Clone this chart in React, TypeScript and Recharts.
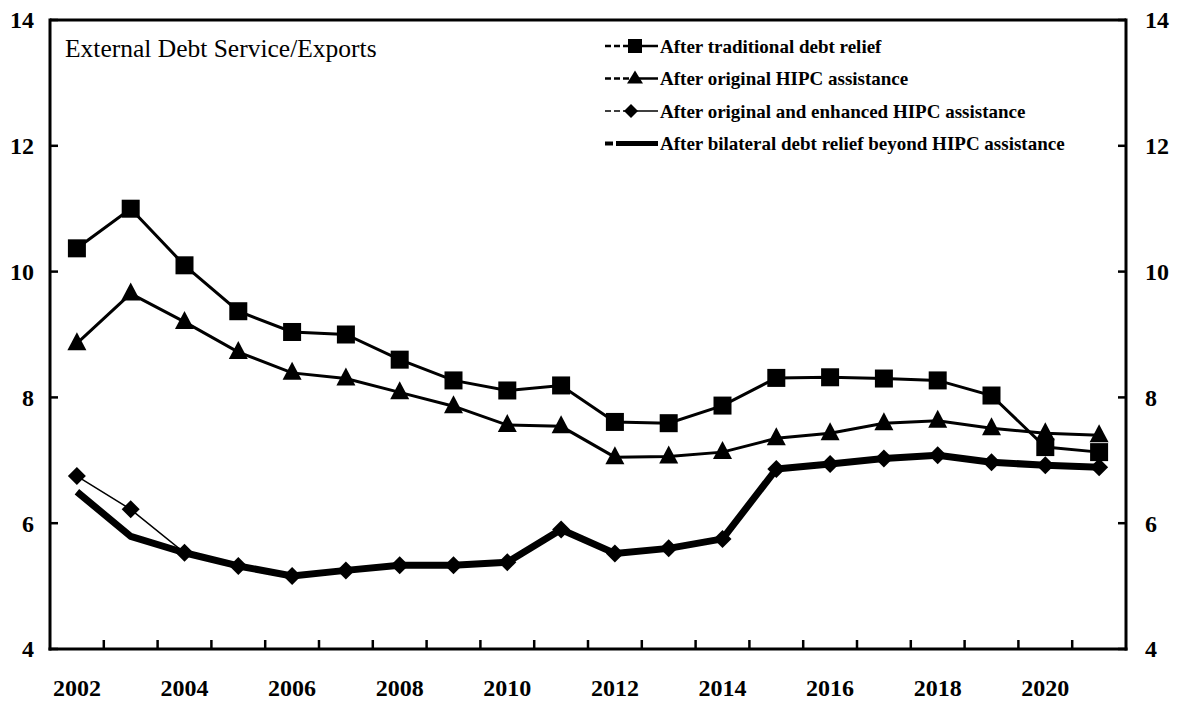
import React from 'react';
import { LineChart, Line, XAxis, YAxis, Legend, ReferenceLine } from 'recharts';

const years = [2002, 2003, 2004, 2005, 2006, 2007, 2008, 2009, 2010, 2011, 2012, 2013, 2014, 2015, 2016, 2017, 2018, 2019, 2020, 2021];
const traditional = [10.37, 11.0, 10.1, 9.37, 9.04, 9.0, 8.6, 8.27, 8.11, 8.19, 7.61, 7.59, 7.87, 8.31, 8.32, 8.3, 8.27, 8.03, 7.21, 7.13];
const originalHipc = [8.86, 9.65, 9.2, 8.72, 8.39, 8.3, 8.08, 7.86, 7.56, 7.54, 7.05, 7.06, 7.13, 7.35, 7.43, 7.59, 7.63, 7.51, 7.43, 7.4];
const enhancedHipc = [6.75, 6.22, 5.53, 5.32, 5.16, 5.25, 5.33, 5.33, 5.38, 5.9, 5.52, 5.6, 5.75, 6.86, 6.94, 7.03, 7.08, 6.97, 6.92, 6.89];
const bilateral = [6.5, 5.79, 5.53, 5.32, 5.16, 5.25, 5.33, 5.33, 5.38, 5.9, 5.52, 5.6, 5.75, 6.86, 6.94, 7.03, 7.08, 6.97, 6.92, 6.89];

const yTicks = [4, 6, 8, 10, 12, 14];
const xLabelYears = [2002, 2004, 2006, 2008, 2010, 2012, 2014, 2016, 2018, 2020];
const xTickMarks = years.slice(0, -1).map((y) => y + 0.5);
const xTicks = [...xLabelYears, ...xTickMarks].sort((a, b) => a - b);

const seriesNames: Record<string, string> = {
  traditional: 'After traditional debt relief',
  originalHipc: 'After original HIPC assistance',
  enhancedHipc: 'After original and enhanced HIPC assistance',
  bilateral: 'After bilateral debt relief beyond HIPC assistance',
};
const legendOrder = ['traditional', 'originalHipc', 'enhancedHipc', 'bilateral'];

const data = years.map((year, i) => ({
  year,
  traditional: traditional[i],
  originalHipc: originalHipc[i],
  enhancedHipc: enhancedHipc[i],
  bilateral: bilateral[i],
}));

const FONT = '"Liberation Serif", "Times New Roman", serif';

const XTick = (props: any) => {
  const { x, y, payload } = props;
  const v = payload.value;
  if (Number.isInteger(v)) {
    return (
      <text x={x} y={y + 47} textAnchor="middle" fontFamily={FONT} fontWeight="bold" fontSize={24} fill="#000">
        {v}
      </text>
    );
  }
  return <line x1={x} x2={x} y1={y} y2={y - 9} stroke="#000" strokeWidth={2.5} />;
};

const YTick = (props: any) => {
  const { x, y, payload, side } = props;
  const left = side === 'left';
  return (
    <g>
      <line x1={x} x2={left ? x + 8 : x - 8} y1={y} y2={y} stroke="#000" strokeWidth={2.5} />
      <text
        x={left ? x - 16 : x + 19}
        y={y}
        dy="0.35em"
        textAnchor={left ? 'end' : 'start'}
        fontFamily={FONT}
        fontWeight="bold"
        fontSize={24}
        fill="#000"
      >
        {payload.value}
      </text>
    </g>
  );
};

const Square = (props: any) => {
  const { cx, cy, index } = props;
  if (cx == null || cy == null) return <g key={index} />;
  return <rect key={index} x={cx - 9} y={cy - 9} width={18} height={18} fill="#000" />;
};
const Triangle = (props: any) => {
  const { cx, cy, index } = props;
  if (cx == null || cy == null) return <g key={index} />;
  return <polygon key={index} points={`${cx},${cy - 11} ${cx - 9.5},${cy + 7} ${cx + 9.5},${cy + 7}`} fill="#000" />;
};
const Diamond = (props: any) => {
  const { cx, cy, index } = props;
  if (cx == null || cy == null) return <g key={index} />;
  return <polygon key={index} points={`${cx},${cy - 9} ${cx + 9},${cy} ${cx},${cy + 9} ${cx - 9},${cy}`} fill="#000" />;
};

const LegendSymbol = ({ k, cy }: { k: string; cy: number }) => {
  if (k === 'bilateral') {
    return (
      <g>
        <line x1={5} x2={13} y1={cy} y2={cy} stroke="#000" strokeWidth={4} />
        <line x1={16} x2={58} y1={cy} y2={cy} stroke="#000" strokeWidth={5} />
      </g>
    );
  }
  const thin = k === 'enhancedHipc';
  const sw = thin ? 1.5 : 2.5;
  const mx = k === 'enhancedHipc' ? 31 : 35;
  let marker: React.ReactNode = null;
  if (k === 'traditional') marker = <rect x={mx - 7} y={cy - 7} width={14} height={14} fill="#000" />;
  if (k === 'originalHipc') marker = <polygon points={`${mx},${cy - 8} ${mx - 8},${cy + 5} ${mx + 8},${cy + 5}`} fill="#000" />;
  if (k === 'enhancedHipc') marker = <polygon points={`${mx},${cy - 7} ${mx + 7},${cy} ${mx},${cy + 7} ${mx - 7},${cy}`} fill="#000" />;
  return (
    <g>
      <line x1={5} x2={mx - 6} y1={cy} y2={cy} stroke="#000" strokeWidth={sw} strokeDasharray="6 3" />
      <line x1={mx} x2={58} y1={cy} y2={cy} stroke="#000" strokeWidth={sw} />
      {marker}
    </g>
  );
};

const renderLegend = (props: any) => {
  const payload: any[] = props.payload || [];
  const keys = legendOrder.filter((k) => payload.some((p) => p.dataKey === k));
  return (
    <svg width={500} height={135}>
      {keys.map((k, i) => {
        const cy = 18 + i * 32.5;
        return (
          <g key={k}>
            <LegendSymbol k={k} cy={cy} />
            <text x={60} y={cy} dy="0.35em" fontFamily={FONT} fontWeight="bold" fontSize={19} fill="#000">
              {seriesNames[k]}
            </text>
          </g>
        );
      })}
    </svg>
  );
};

export default function App() {
  return (
    <div style={{ position: 'absolute', left: 0, top: 0, background: '#fff' }}>
      <LineChart width={1183} height={701} data={data} margin={{ top: 20, right: 0, bottom: 0, left: 0 }}>
        <XAxis
          dataKey="year"
          type="number"
          domain={[2001.5, 2021.5]}
          ticks={xTicks}
          interval={0}
          height={52}
          allowDataOverflow
          axisLine={{ stroke: '#000', strokeWidth: 3, strokeLinecap: 'square' }}
          tickLine={false}
          tickSize={0}
          tickMargin={0}
          tick={<XTick />}
        />
        <YAxis
          yAxisId="left"
          type="number"
          domain={[4, 14]}
          ticks={yTicks}
          interval={0}
          width={50}
          allowDataOverflow
          axisLine={{ stroke: '#000', strokeWidth: 3, strokeLinecap: 'square' }}
          tickLine={false}
          tickSize={0}
          tickMargin={0}
          tick={<YTick side="left" />}
        />
        <YAxis
          yAxisId="right"
          orientation="right"
          type="number"
          domain={[4, 14]}
          ticks={yTicks}
          interval={0}
          width={57}
          allowDataOverflow
          axisLine={{ stroke: '#000', strokeWidth: 3, strokeLinecap: 'square' }}
          tickLine={false}
          tickSize={0}
          tickMargin={0}
          tick={<YTick side="right" />}
        />
        <ReferenceLine yAxisId="left" y={14} stroke="#000" strokeWidth={3} />
        <text x={65} y={57} fontFamily={FONT} fontSize={25.5} fill="#000">
          External Debt Service/Exports
        </text>
        <Line yAxisId="left" dataKey="traditional" name={seriesNames.traditional} stroke="#000" strokeWidth={3} dot={Square} activeDot={false} isAnimationActive={false} />
        <Line yAxisId="left" dataKey="originalHipc" name={seriesNames.originalHipc} stroke="#000" strokeWidth={3} dot={Triangle} activeDot={false} isAnimationActive={false} />
        <Line yAxisId="left" dataKey="bilateral" name={seriesNames.bilateral} stroke="#000" strokeWidth={7} dot={false} activeDot={false} strokeLinejoin="round" isAnimationActive={false} />
        <Line yAxisId="left" dataKey="enhancedHipc" name={seriesNames.enhancedHipc} stroke="#000" strokeWidth={1.5} dot={Diamond} activeDot={false} isAnimationActive={false} />
        <Legend
          content={renderLegend}
          layout="vertical"
          align="center"
          verticalAlign="middle"
          wrapperStyle={{ position: 'absolute', left: 600, top: 28, width: 500, height: 135 }}
        />
      </LineChart>
    </div>
  );
}
